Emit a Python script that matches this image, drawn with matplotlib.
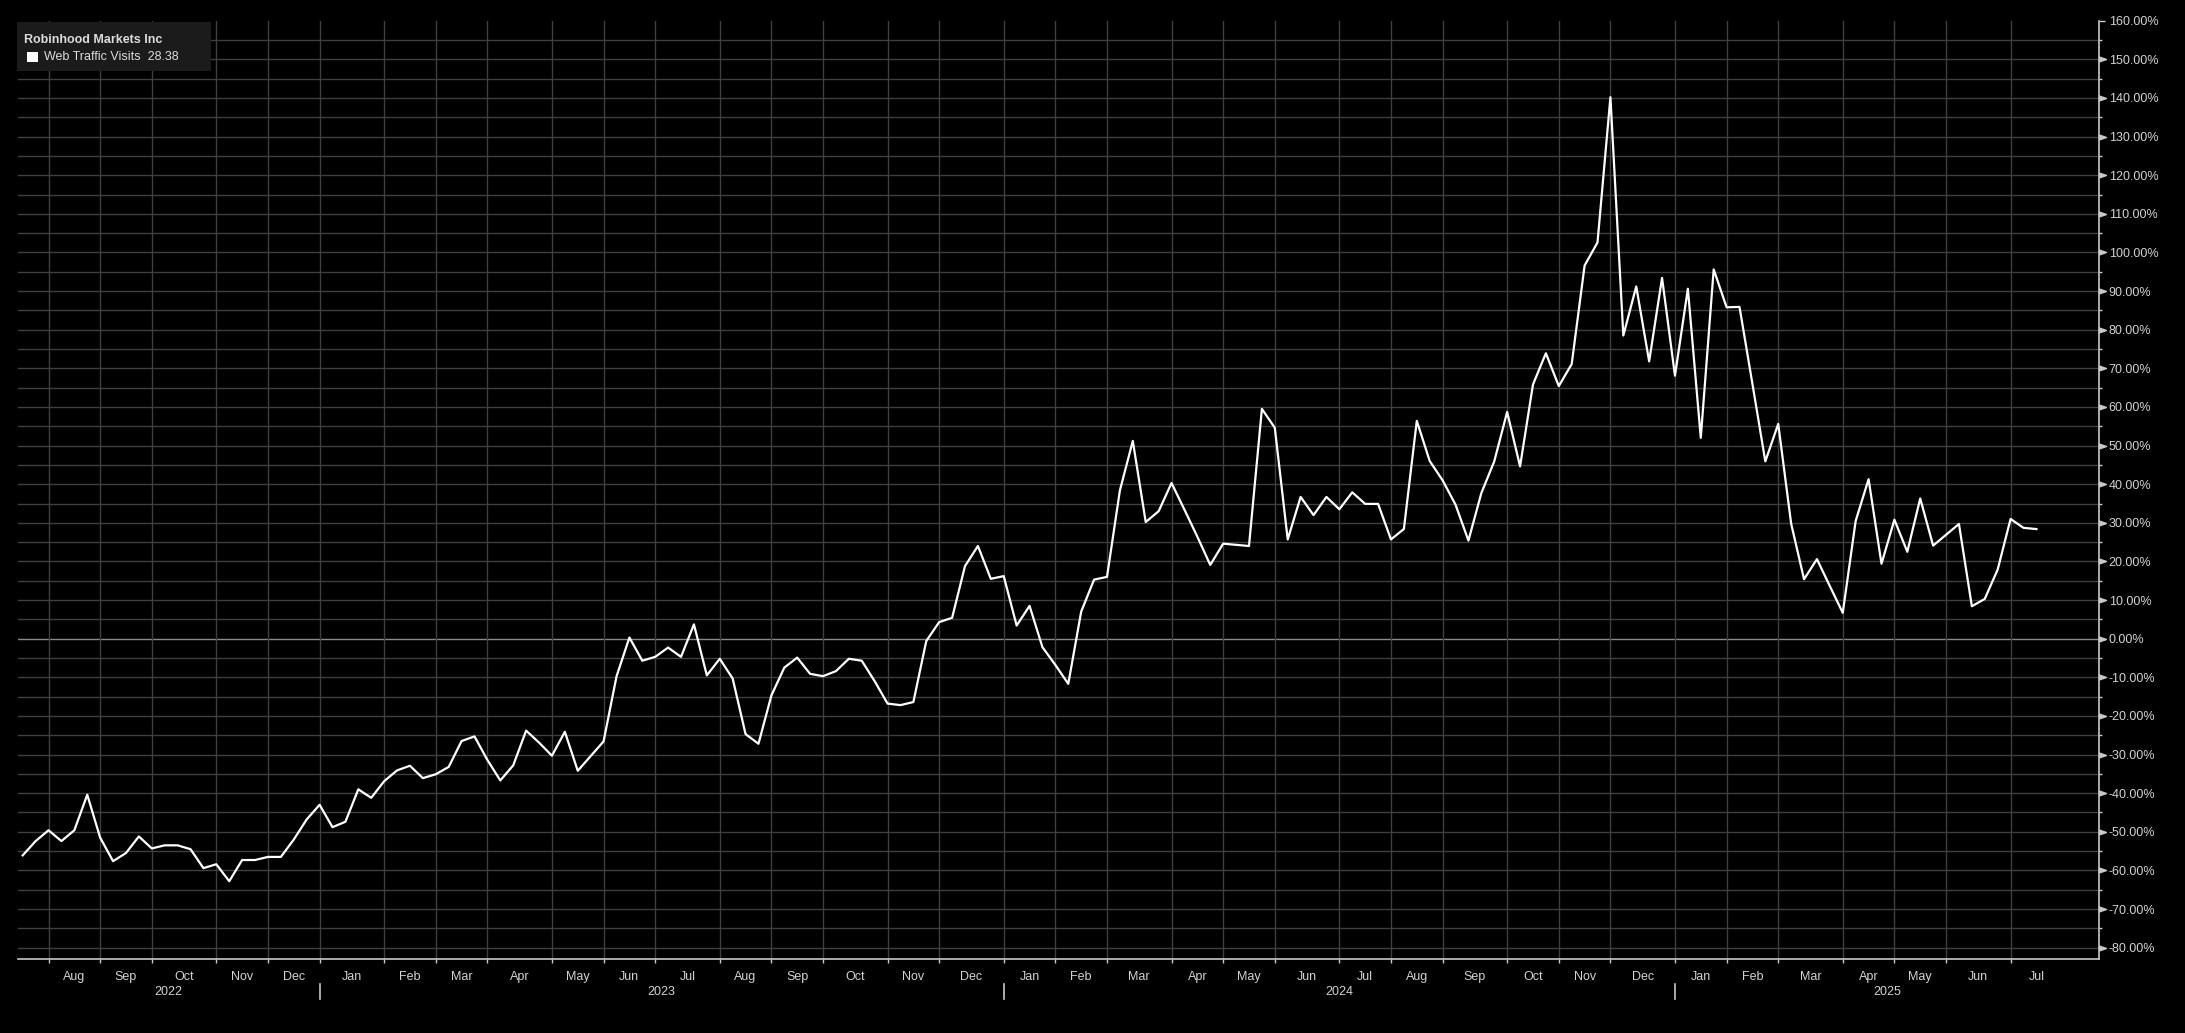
import numpy as np
import pandas as pd
import matplotlib
matplotlib.use("Agg")
import matplotlib.pyplot as plt
from matplotlib.patches import Rectangle
from matplotlib.lines import Line2D

plt.rcParams['font.family'] = ['Liberation Sans', 'DejaVu Sans']

# ---------------- data ----------------
title = "Robinhood Markets Inc"
series_name = "Web Traffic Visits"
start_date = "2022-07-24"   # weekly observations
values = [
    -56.1, -52.4, -49.6, -52.4, -49.6, -40.4, -51.5, -57.6, -55.5, -51.2,
    -54.3, -53.5, -53.5, -54.5, -59.4, -58.4, -62.8, -57.3, -57.3, -56.5,
    -56.5, -52.0, -46.8, -43.0, -48.8, -47.4, -39.0, -41.2, -36.9, -34.1,
    -32.9, -36.1, -35.1, -33.2, -26.5, -25.3, -31.4, -36.7, -32.8, -23.8,
    -26.9, -30.3, -24.1, -34.2, -30.4, -26.6, -9.8, 0.3, -5.7, -4.7,
    -2.3, -4.7, 3.7, -9.5, -5.2, -10.3, -24.7, -27.2, -14.7, -7.5,
    -4.9, -9.1, -9.7, -8.4, -5.2, -5.7, -11.0, -16.8, -17.2, -16.4,
    -0.6, 4.3, 5.4, 18.8, 24.0, 15.5, 16.2, 3.4, 8.5, -2.2,
    -6.8, -11.7, 7.0, 15.3, 16.0, 38.4, 51.2, 30.2, 33.0, 40.3,
    33.4, 26.4, 19.1, 24.6, 24.3, 24.0, 59.5, 54.6, 25.7, 36.7,
    32.0, 36.7, 33.5, 37.9, 34.9, 34.9, 25.7, 28.4, 56.4, 46.0,
    41.0, 34.7, 25.4, 37.7, 45.9, 58.7, 44.6, 65.8, 73.9, 65.4,
    71.1, 96.6, 102.6, 140.2, 78.5, 91.2, 71.8, 93.4, 68.1, 90.6,
    52.0, 95.6, 85.8, 85.9, 66.0, 45.9, 55.6, 29.8, 15.4, 20.6,
    13.6, 6.7, 30.5, 41.3, 19.4, 30.8, 22.5, 36.3, 24.1, 26.9,
    29.7, 8.4, 10.3, 17.9, 31.0, 28.7, 28.38,
]
y_major = list(range(-80, 161, 10))
y_minor = list(range(-75, 160, 10))
month_names = ["Jan", "Feb", "Mar", "Apr", "May", "Jun",
               "Jul", "Aug", "Sep", "Oct", "Nov", "Dec"]

# ---------------- layout ----------------
W, H = 2185, 1033
BG = "#000000"
GRID = "#3f3f3f"
ZERO = "#8a8a8a"
AXC = "#c8c8c8"
TXT = "#d2d2d2"
FS = 9

n = len(values)
x = np.arange(n)
ext_dates = pd.date_range(start_date, periods=n + 10, freq="7D")
dates = ext_dates[:n]

# month boundaries (first weekly point in each month)
bounds_ext = [i for i in range(1, len(ext_dates))
              if ext_dates[i].month != ext_dates[i - 1].month]
month_starts = [b for b in bounds_ext if b < n]

fig = plt.figure(figsize=(W / 100, H / 100), dpi=100, facecolor=BG)
ax_left, ax_right, ax_top, ax_bot = 18, 2099, 20.7, 959
ax = fig.add_axes([ax_left / W, 1 - ax_bot / H,
                   (ax_right - ax_left) / W, (ax_bot - ax_top) / H])
ax.set_facecolor(BG)
xmin, xmax = -0.364, 160.85
ax.set_xlim(xmin, xmax)
ax.set_ylim(-82.93, 160)

# grid
for v in range(-80, 160, 5):
    ax.axhline(v, color=ZERO if v == 0 else GRID, lw=1.0, zorder=1)
for b in month_starts:
    ax.axvline(b, color=GRID, lw=1.0, zorder=1)

# line
ax.plot(x, values, color="white", lw=1.6, zorder=3)

# spines
for s in ["top", "left"]:
    ax.spines[s].set_visible(False)
for s in ["right", "bottom"]:
    ax.spines[s].set_color(AXC)
    ax.spines[s].set_linewidth(1.2)

# y axis on right
ax.yaxis.tick_right()
ax.set_yticks(y_major)
ax.set_yticklabels([f"{v:.2f}%" for v in y_major])
ax.set_yticks(y_minor, minor=True)
ax.tick_params(axis="y", which="major", direction="out", length=4, width=1,
               color=AXC, labelcolor=TXT, labelsize=FS, pad=3)
ax.tick_params(axis="y", which="minor", direction="out", length=2.5, width=1,
               color=AXC)
tri = [(0, -0.35), (0, 0.35), (1, 0), (0, -0.35)]
ax.plot([1.0] * (len(y_major) - 1), y_major[:-1],
        transform=ax.get_yaxis_transform(), linestyle="none",
        marker=tri, ms=10, color=AXC, clip_on=False, zorder=5)

# x axis: ticks at month starts, labels centred in months
ax.set_xticks(month_starts)
ax.set_xticklabels([""] * len(month_starts))
ax.tick_params(axis="x", which="major", direction="out", length=3, width=1,
               color=AXC)
ax_h = ax_bot - ax_top
y_month = -(977 - ax_bot) / ax_h
y_year = -(992 - ax_bot) / ax_h
xt = ax.get_xaxis_transform()
for k, b in enumerate(bounds_ext):
    if b >= n or k + 1 >= len(bounds_ext):
        break
    mid = (b + bounds_ext[k + 1]) / 2
    ax.text(mid, y_month, month_names[ext_dates[b].month - 1], transform=xt,
            ha="center", va="center", color=TXT, fontsize=FS, clip_on=False)

# years
year_starts = [b for b in month_starts if ext_dates[b].month == 1]
years = sorted(set(d.year for d in dates))
edges = [xmin] + year_starts + [xmax]
for yr, a, bnd in zip(years, edges[:-1], edges[1:]):
    ax.text((a + bnd) / 2, y_year, str(yr), transform=xt, ha="center",
            va="center", color=TXT, fontsize=FS, clip_on=False)
for b in year_starts:
    ax.add_line(Line2D([b, b], [-(984 - ax_bot) / ax_h, -(999 - ax_bot) / ax_h],
                       transform=xt, color=AXC, lw=1.2, clip_on=False))

# legend box
fig.patches.append(Rectangle((17 / W, 1 - 70.7 / H), 194 / W, 48.7 / H,
                             transform=fig.transFigure, facecolor="#1b1b1b",
                             edgecolor="none", zorder=5))
fig.text(24 / W, 1 - 40 / H, title, color="#dcdcdc", fontsize=FS,
         fontweight="bold", ha="left", va="center", zorder=6)
fig.patches.append(Rectangle((27.3 / W, 1 - 61.7 / H), 10.4 / W, 10 / H,
                             transform=fig.transFigure, facecolor="white",
                             edgecolor="none", zorder=6))
fig.text(44.3 / W, 1 - 56.5 / H, f"{series_name}  {values[-1]:.2f}",
         color="#dcdcdc", fontsize=FS, ha="left", va="center", zorder=6)

fig.savefig("out.png", dpi=100, facecolor=BG)
